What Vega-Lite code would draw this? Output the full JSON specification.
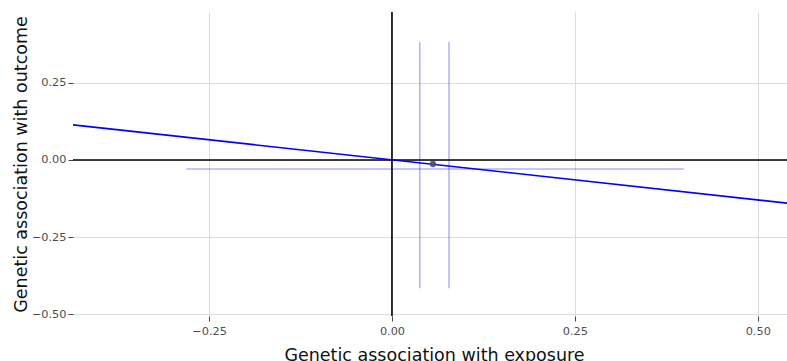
{
  "$schema": "https://vega.github.io/schema/vega-lite/v6.json",
  "width": 714,
  "height": 304,
  "autosize": {"type": "none"},
  "padding": {"left": 73, "top": 12, "right": 0, "bottom": 45},
  "background": "white",
  "config": {
    "view": {"stroke": null},
    "font": "DejaVu Sans",
    "axis": {
      "domain": false,
      "grid": true,
      "gridColor": "#dcdcdc",
      "gridWidth": 1,
      "tickColor": "#444444",
      "tickSize": 5,
      "labelColor": "#4d4d4d",
      "labelFontSize": 11.3,
      "labelFont": "DejaVu Sans",
      "titleFont": "DejaVu Sans",
      "titleFontSize": 17.5,
      "titleFontWeight": "normal",
      "titleColor": "#111111"
    }
  },
  "datasets": {
    "errs": [
      {"x": 0.038, "x2": 0.038, "y": 0.383, "y2": -0.416},
      {"x": 0.078, "x2": 0.078, "y": 0.383, "y2": -0.416},
      {"x": -0.281, "x2": 0.399, "y": -0.029, "y2": -0.029}
    ],
    "fit": [
      {"x": -0.436, "y": 0.114},
      {"x": 0.54, "y": -0.140}
    ],
    "pts": [
      {"x": 0.056, "y": -0.013}
    ],
    "zero": [{"v": 0}]
  },
  "layer": [
    {
      "data": {"name": "zero"},
      "mark": {"type": "rule", "color": "black", "strokeWidth": 1.6},
      "encoding": {
        "y": {
          "field": "v", "type": "quantitative",
          "scale": {"domain": [-0.506, 0.48], "nice": false, "zero": false},
          "axis": {"values": [-0.5, -0.25, 0, 0.25], "format": ".2f", "title": "Genetic association with outcome", "titleX": -52, "titleY": 152, "titleAngle": -90, "titleBaseline": "middle", "labelPadding": 2}
        }
      }
    },
    {
      "data": {"name": "zero"},
      "mark": {"type": "rule", "color": "black", "strokeWidth": 1.6},
      "encoding": {
        "x": {
          "field": "v", "type": "quantitative",
          "scale": {"domain": [-0.436, 0.54], "nice": false, "zero": false},
          "axis": {"values": [-0.25, 0, 0.25, 0.5], "format": ".2f", "title": "Genetic association with exposure", "titleX": 361, "titleY": 44, "titleBaseline": "alphabetic", "titleAnchor": "middle", "labelPadding": 4}
        }
      }
    },
    {
      "data": {"name": "errs"},
      "mark": {"type": "rule", "color": "#0000ff", "opacity": 0.3, "strokeWidth": 1.6},
      "encoding": {
        "x": {"field": "x", "type": "quantitative"},
        "x2": {"field": "x2"},
        "y": {"field": "y", "type": "quantitative"},
        "y2": {"field": "y2"}
      }
    },
    {
      "data": {"name": "fit"},
      "mark": {"type": "line", "color": "#0000ff", "strokeWidth": 1.6},
      "encoding": {
        "x": {"field": "x", "type": "quantitative"},
        "y": {"field": "y", "type": "quantitative"}
      }
    },
    {
      "data": {"name": "pts"},
      "mark": {"type": "point", "filled": true, "color": "#4b4b6e", "opacity": 0.9, "size": 40},
      "encoding": {
        "x": {"field": "x", "type": "quantitative"},
        "y": {"field": "y", "type": "quantitative"}
      }
    }
  ]
}
